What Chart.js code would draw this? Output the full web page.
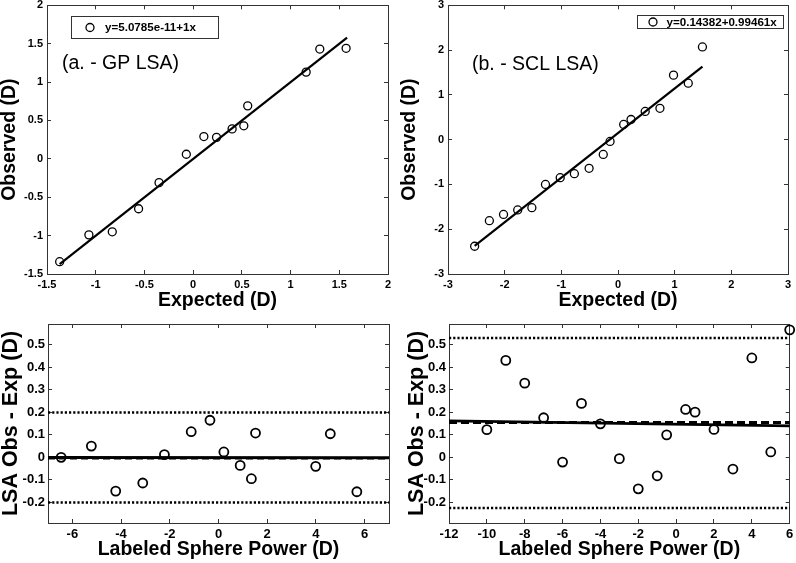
<!DOCTYPE html>
<html lang="en">
<head>
<meta charset="utf-8">
<title>LSA</title>
<script src="https://cdn.jsdelivr.net/npm/chart.js@4.4.1/dist/chart.umd.min.js"></script>
<style>
  body { margin: 0; background: #fff; }
  #quadro { position: relative; width: 796px; height: 563px; overflow: hidden; background: #fff; }
  #quadro canvas { position: absolute; }
</style>
</head>
<body>
<div id="quadro">
  <canvas id="gpEsperado" width="398" height="312" style="left:0px;top:0px"></canvas>
  <canvas id="sclEsperado" width="396" height="312" style="left:400px;top:0px"></canvas>
  <canvas id="gpResiduo" width="398" height="251" style="left:0px;top:312px"></canvas>
  <canvas id="sclResiduo" width="396" height="251" style="left:400px;top:312px"></canvas>
</div>
<script>
// (a) GP LSA - observado x esperado
const gpExp = [-1.37, -1.07, -0.83, -0.56, -0.35, -0.07, 0.11, 0.24, 0.40, 0.52, 0.56, 1.16, 1.30, 1.57];
const gpObs = [-1.34, -0.99, -0.95, -0.65, -0.31, 0.06, 0.29, 0.28, 0.39, 0.43, 0.69, 1.13, 1.43, 1.44];
const gpRetaX = [-1.37, 1.58];
const gpRetaY = [-1.37, 1.58];
const gpTicks = [-1.5, -1, -0.5, 0, 0.5, 1, 1.5, 2];

// (b) SCL LSA - observado x esperado
const sclExp = [-2.53, -2.27, -2.02, -1.77, -1.52, -1.28, -1.02, -0.77, -0.51, -0.26, -0.14, 0.10, 0.23, 0.48, 0.74, 0.98, 1.24, 1.49];
const sclObs = [-2.38, -1.81, -1.67, -1.57, -1.52, -1.00, -0.85, -0.76, -0.64, -0.33, -0.04, 0.34, 0.45, 0.63, 0.70, 1.44, 1.26, 2.07];
const sclRetaX = [-2.53, 1.49];
const sclRetaY = [-2.37, 1.63];
const sclTicks = [-3, -2, -1, 0, 1, 2, 3];

// residuos (obs - exp) x potencia esferica rotulada
const gpPot = [-6.46, -5.22, -4.22, -3.11, -2.22, -1.12, -0.35, 0.22, 0.89, 1.35, 1.52, 3.99, 4.59, 5.68];
const gpDif = [0.0, 0.05, -0.15, -0.114, 0.012, 0.114, 0.165, 0.024, -0.036, -0.095, 0.108, -0.04, 0.105, -0.153];
const gpResX = [-7, 7];
const gpResReta = [-0.001, -0.002];
const gpResMedia = -0.004;
const gpResLimites = [0.199, -0.201];
const gpPotTicks = [-6, -4, -2, 0, 2, 4, 6];

const sclPot = [-10, -9, -8, -7, -6, -5, -4, -3, -2, -1, -0.5, 0.5, 1, 2, 3, 4, 5, 6];
const sclDif = [0.123, 0.431, 0.33, 0.176, -0.021, 0.24, 0.149, -0.006, -0.14, -0.082, 0.1, 0.213, 0.201, 0.124, -0.052, 0.442, 0.024, 0.567];
const sclResX = [-12, 6];
const sclResReta = [0.162, 0.140];
const sclResMedia = 0.155;
const sclResLimites = [0.531, -0.225];
const sclPotTicks = [-12, -10, -8, -6, -4, -2, 0, 2, 4, 6];

const difTicks = [-0.2, -0.1, 0, 0.1, 0.2, 0.3, 0.4, 0.5];

const FONTE = "'Liberation Sans', Arial, Helvetica, sans-serif";
const COR_EIXO = "#333";

function pares(xs, ys) {
  return xs.map((x, i) => ({ x: x, y: ys[i] }));
}

function tamanho(valor, lado) {
  return function (escala) {
    escala[lado] = valor;
    escala.paddingTop = 0;
    escala.paddingBottom = 0;
    escala.paddingLeft = 0;
    escala.paddingRight = 0;
  };
}

function usarTicks(lista) {
  return function (escala) {
    escala.ticks = lista.map((v) => ({ value: v }));
  };
}

function eixo(pos, min, max, lista, tam) {
  return {
    type: "linear",
    position: pos,
    min: min,
    max: max,
    afterBuildTicks: usarTicks(lista),
    afterFit: tamanho(tam, pos === "top" || pos === "bottom" ? "height" : "width"),
    border: { display: true, color: COR_EIXO, width: 1 },
    grid: { drawOnChartArea: false, drawTicks: true, tickLength: -4, color: COR_EIXO, lineWidth: 1 },
    ticks: { display: false },
  };
}

function montarEscalas(c) {
  const x = eixo("bottom", c.xMin, c.xMax, c.xTicks, c.baixo);
  x.ticks = { display: true, autoSkip: false, maxRotation: 0, padding: c.padX, color: "#000", font: c.fonteTick, callback: (v) => String(v) };
  x.title = { display: true, text: c.xTitulo, color: "#000", font: c.fonteX, padding: { top: 0, bottom: c.padTituloX } };

  const y = eixo("left", c.yMin, c.yMax, c.yTicks, c.esq);
  y.ticks = { display: true, autoSkip: false, padding: c.padY, color: "#000", font: c.fonteTick, callback: (v) => String(v) };
  y.title = { display: true, text: c.yTitulo, color: "#000", font: c.fonteY, padding: { top: c.padTituloY, bottom: 0 } };

  return {
    x: x,
    y: y,
    x2: eixo("top", c.xMin, c.xMax, c.xTicks, c.cima),
    y2: eixo("right", c.yMin, c.yMax, c.yTicks, c.dir),
  };
}

function pontos(label, dados, raio, espessura) {
  return {
    label: label,
    data: dados,
    showLine: false,
    pointStyle: "circle",
    pointRadius: raio,
    pointBorderWidth: espessura,
    pointBorderColor: "#000",
    pointBackgroundColor: "rgba(0,0,0,0)",
    clip: false,
  };
}

function linha(dados, espessura, tracejado) {
  return {
    data: dados,
    showLine: true,
    pointRadius: 0,
    borderColor: "#000",
    borderWidth: espessura,
    borderDash: tracejado,
    borderCapStyle: "butt",
    clip: false,
  };
}

// legenda em caixa e rotulo do painel, dentro da area do grafico
const notas = {
  id: "notas",
  afterDatasetsDraw(chart, args, o) {
    const ctx = chart.ctx;
    ctx.save();
    ctx.fillStyle = "#000";
    ctx.textAlign = "left";
    ctx.textBaseline = "alphabetic";
    ctx.font = "19.5px " + FONTE;
    ctx.fillText(o.rotulo, o.rotuloX, o.rotuloY);

    const [bx, by, bw, bh] = o.caixa;
    ctx.fillStyle = "#fff";
    ctx.fillRect(bx, by, bw, bh);
    ctx.strokeStyle = COR_EIXO;
    ctx.lineWidth = 1;
    ctx.strokeRect(bx + 0.5, by + 0.5, bw, bh);

    const cy = by + bh / 2 + 0.5;
    ctx.beginPath();
    ctx.arc(bx + o.marcaX, cy, 4, 0, Math.PI * 2);
    ctx.strokeStyle = "#000";
    ctx.lineWidth = 1.3;
    ctx.stroke();

    ctx.fillStyle = "#000";
    ctx.textBaseline = "middle";
    ctx.font = "bold 11.6px " + FONTE;
    ctx.fillText(chart.data.datasets[0].label, bx + o.textoX, cy + 0.5);
    ctx.restore();
  },
};

function opcoesBase(escalas, extras) {
  return {
    responsive: false,
    animation: false,
    events: [],
    layout: { padding: 0 },
    scales: escalas,
    plugins: Object.assign({ legend: { display: false }, tooltip: { enabled: false } }, extras || {}),
  };
}

const tickTopo = { family: FONTE, size: 11, weight: "bold" };
const tickBaixo = { family: FONTE, size: 13, weight: "bold" };
const tituloTopo = { family: FONTE, size: 19.5, weight: "bold", lineHeight: 1 };
const tituloBaixoX = { family: FONTE, size: 19.5, weight: "bold", lineHeight: 1 };
const tituloBaixoY = { family: FONTE, size: 21.5, weight: "bold", lineHeight: 1 };

function inicial() {
  new Chart(document.getElementById("gpEsperado"), {
    type: "scatter",
    data: {
      datasets: [
        pontos("y=5.0785e-11+1x", pares(gpExp, gpObs), 4, 1.3),
        linha(pares(gpRetaX, gpRetaY), 2.2, []),
      ],
    },
    options: opcoesBase(
      montarEscalas({
        xMin: -1.5, xMax: 2, xTicks: gpTicks, yMin: -1.5, yMax: 2, yTicks: gpTicks,
        esq: 47, dir: 10, cima: 5, baixo: 38,
        padX: 8, padY: 8, fonteTick: tickTopo,
        xTitulo: "Expected (D)", fonteX: tituloTopo, padTituloX: 2,
        yTitulo: "Observed (D)", fonteY: tituloTopo, padTituloY: 0,
      }),
      { notas: { rotulo: "(a. - GP LSA)", rotuloX: 62, rotuloY: 68.5, caixa: [71, 16, 147, 22], marcaX: 19, textoX: 34 } }
    ),
    plugins: [notas],
  });

  new Chart(document.getElementById("sclEsperado"), {
    type: "scatter",
    data: {
      datasets: [
        pontos("y=0.14382+0.99461x", pares(sclExp, sclObs), 4, 1.3),
        linha(pares(sclRetaX, sclRetaY), 2.2, []),
      ],
    },
    options: opcoesBase(
      montarEscalas({
        xMin: -3, xMax: 3, xTicks: sclTicks, yMin: -3, yMax: 3, yTicks: sclTicks,
        esq: 48, dir: 8, cima: 5, baixo: 38,
        padX: 8, padY: 8, fonteTick: tickTopo,
        xTitulo: "Expected (D)", fonteX: tituloTopo, padTituloX: 2,
        yTitulo: "Observed (D)", fonteY: tituloTopo, padTituloY: 0,
      }),
      { notas: { rotulo: "(b. - SCL LSA)", rotuloX: 72, rotuloY: 69.5, caixa: [237, 15, 146, 13], marcaX: 16, textoX: 29.5 } }
    ),
    plugins: [notas],
  });

  new Chart(document.getElementById("gpResiduo"), {
    type: "scatter",
    data: {
      datasets: [
        pontos("GP", pares(gpPot, gpDif), 4.5, 1.8),
        linha(pares(gpResX, gpResReta), 3, []),
        linha(pares(gpResX, [gpResMedia, gpResMedia]), 2.6, [7, 4]),
        linha(pares(gpResX, [gpResLimites[0], gpResLimites[0]]), 2.5, [2.2, 2]),
        linha(pares(gpResX, [gpResLimites[1], gpResLimites[1]]), 2.5, [2.2, 2]),
      ],
    },
    options: opcoesBase(
      montarEscalas({
        xMin: -7, xMax: 7, xTicks: gpPotTicks, yMin: -0.292, yMax: 0.593, yTicks: difTicks,
        esq: 48, dir: 9, cima: 12, baixo: 40,
        padX: 8, padY: 7, fonteTick: tickBaixo,
        xTitulo: "Labeled Sphere Power (D)", fonteX: tituloBaixoX, padTituloX: 4,
        yTitulo: "LSA Obs - Exp (D)", fonteY: tituloBaixoY, padTituloY: 0,
      })
    ),
  });

  new Chart(document.getElementById("sclResiduo"), {
    type: "scatter",
    data: {
      datasets: [
        pontos("SCL", pares(sclPot, sclDif), 4.5, 1.8),
        linha(pares(sclResX, sclResReta), 2.6, []),
        linha(pares(sclResX, [sclResMedia, sclResMedia]), 2.8, [8, 4]),
        linha(pares(sclResX, [sclResLimites[0], sclResLimites[0]]), 2.5, [2.2, 2]),
        linha(pares(sclResX, [sclResLimites[1], sclResLimites[1]]), 2.5, [2.2, 2]),
      ],
    },
    options: opcoesBase(
      montarEscalas({
        xMin: -12, xMax: 6, xTicks: sclPotTicks, yMin: -0.292, yMax: 0.593, yTicks: difTicks,
        esq: 49, dir: 6, cima: 12, baixo: 40,
        padX: 8, padY: 7, fonteTick: tickBaixo,
        xTitulo: "Labeled Sphere Power (D)", fonteX: tituloBaixoX, padTituloX: 4,
        yTitulo: "LSA Obs - Exp (D)", fonteY: tituloBaixoY, padTituloY: 6,
      })
    ),
  });
}

inicial();
</script>
</body>
</html>
